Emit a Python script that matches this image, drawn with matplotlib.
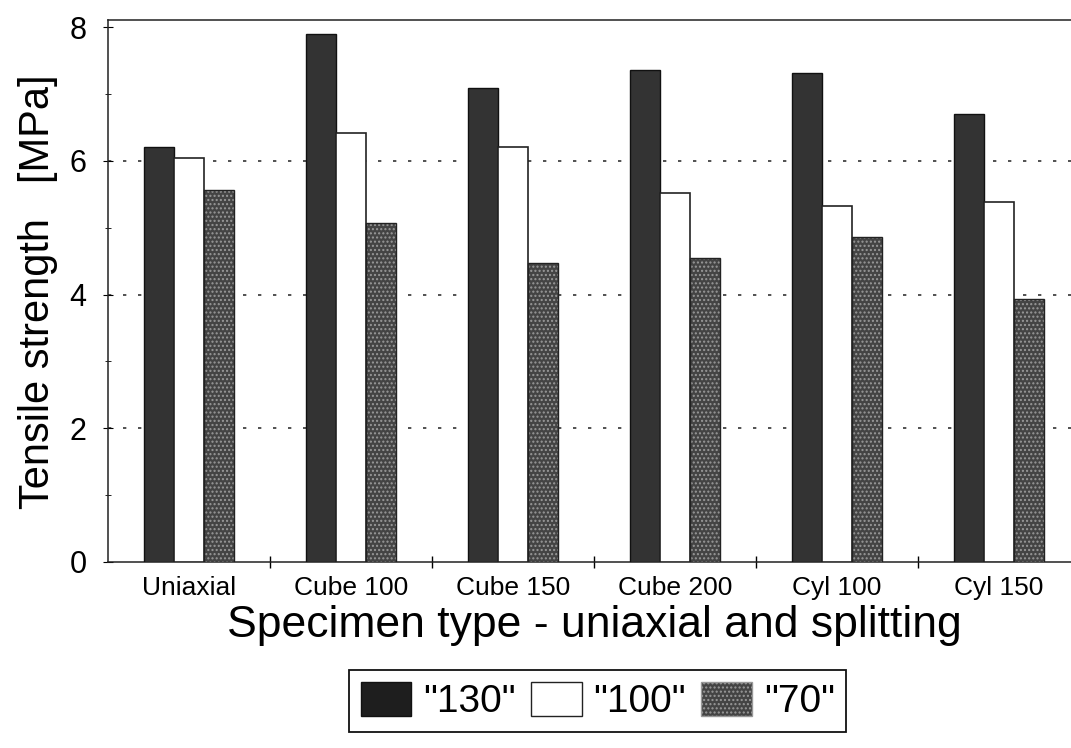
import numpy as np
import matplotlib.pyplot as plt
from matplotlib.patches import Patch

plt.rcParams['font.family'] = ['Liberation Sans', 'DejaVu Sans']

categories = ['Uniaxial', 'Cube 100', 'Cube 150', 'Cube 200', 'Cyl 100', 'Cyl 150']
s130 = [6.20, 7.89, 7.09, 7.36, 7.32, 6.70]
s100 = [6.04, 6.42, 6.20, 5.52, 5.32, 5.38]
s70 = [5.56, 5.07, 4.47, 4.55, 4.86, 3.93]
series_names = ['"130"', '"100"', '"70"']

fig = plt.figure(figsize=(10.71, 7.48), dpi=100)
ax = fig.add_axes([0.1008, 0.2487, 0.9076, 0.7240])

x = np.arange(len(categories))
w = 0.185

ax.bar(x - w, s130, w, color='#333333', edgecolor='#111111', lw=1, zorder=3)
ax.bar(x, s100, w, color='white', edgecolor='#222222', lw=1.2, zorder=3)
ax.bar(x + w, s70, w, color='#444444', edgecolor='#999999', hatch='....', lw=0, zorder=3)
ax.bar(x + w, s70, w, color='none', edgecolor='#222222', lw=1, zorder=4)

ax.set_xlim(-0.5, 5.5)
ax.set_ylim(0, 8.1)
ax.set_yticks([0, 2, 4, 6, 8])
ax.set_yticks([1, 3, 5, 7], minor=True)
ax.set_xticks(x)
ax.set_xticklabels(categories, fontsize=19)
ax.set_xticks(np.arange(0.5, 5.5, 1), minor=True)
ax.tick_params(axis='x', which='major', length=0, pad=10)
ax.tick_params(axis='x', which='minor', length=8, direction='inout', width=1)
ax.tick_params(axis='y', which='major', labelsize=22, length=7, direction='inout', pad=12)
ax.tick_params(axis='y', which='minor', length=5, direction='inout')

for v in [2, 4, 6]:
    ax.axhline(v, color='#333333', lw=1.2, ls=(0, (2, 7)), zorder=1)

ax.spines['right'].set_visible(False)
for s in ['left', 'bottom', 'top']:
    ax.spines[s].set_color('#222222')
    ax.spines[s].set_linewidth(1.1)

ax.set_ylabel('Tensile strength   [MPa]', fontsize=30, labelpad=8)
ax.set_xlabel('Specimen type - uniaxial and splitting', fontsize=32, labelpad=4)

handles = [
    Patch(facecolor='#1e1e1e', edgecolor='#111111'),
    Patch(facecolor='white', edgecolor='#222222'),
    Patch(facecolor='#444444', edgecolor='#999999', hatch='....'),
]
leg = fig.legend(handles, series_names, loc='center', bbox_to_anchor=(0.558, 0.063),
                 ncol=3, fontsize=28, frameon=True, fancybox=False, edgecolor='#111111',
                 handlelength=1.3, handleheight=1.0, handletextpad=0.3, columnspacing=0.4,
                 borderpad=0.3, framealpha=1)
leg.get_frame().set_linewidth(1.3)

fig.savefig('out.png', dpi=100)
